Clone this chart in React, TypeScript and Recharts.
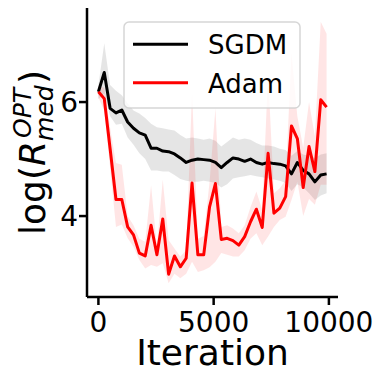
import { ComposedChart, Line, Area, XAxis, YAxis, Legend } from 'recharts';

const FONT = '"DejaVu Sans", sans-serif';

// iterations at which the median ratio was logged
const iterations = [
  0, 254, 508, 762, 1015, 1269, 1523, 1777, 2031, 2285,
  2538, 2792, 3046, 3300, 3554, 3808, 4062, 4315, 4569, 4823,
  5077, 5331, 5585, 5838, 6092, 6346, 6600, 6854, 7108, 7362,
  7615, 7869, 8123, 8377, 8631, 8885, 9138, 9392, 9646, 9900,
];

const sgdm = [
  6.18, 6.52, 5.89, 5.81, 5.86, 5.65, 5.54, 5.46, 5.42, 5.19,
  5.19, 5.14, 5.13, 5.09, 5.02, 4.94, 4.98, 5.0, 4.99, 4.98,
  4.94, 4.85, 4.94, 5.02, 5.0, 4.96, 5.0, 4.94, 4.91, 4.94,
  4.92, 4.91, 4.88, 4.74, 4.94, 4.8, 4.74, 4.6, 4.72, 4.74,
];
const sgdmLow = [
  6.05, 6.15, 5.75, 5.6, 5.62, 5.38, 5.25, 5.1, 5.0, 4.8,
  4.8, 4.78, 4.78, 4.72, 4.65, 4.62, 4.6, 4.6, 4.62, 4.6,
  4.58, 4.5, 4.56, 4.66, 4.68, 4.7, 4.72, 4.7, 4.68, 4.66,
  4.64, 4.62, 4.58, 4.44, 4.56, 4.5, 4.4, 4.28, 4.36, 4.4,
];
const sgdmHigh = [
  6.3, 7.03, 6.3, 6.2, 6.12, 5.98, 5.85, 5.8, 5.72, 5.62,
  5.56, 5.54, 5.52, 5.5, 5.42, 5.36, 5.38, 5.36, 5.34, 5.36,
  5.32, 5.22, 5.3, 5.38, 5.34, 5.36, 5.34, 5.28, 5.24, 5.24,
  5.22, 5.18, 5.16, 5.06, 5.14, 5.08, 5.06, 5.02, 5.08, 5.1,
];

const adam = [
  6.18, 6.06, 5.18, 4.29, 4.29, 3.81, 3.67, 3.35, 3.3, 3.84,
  3.32, 3.95, 2.98, 3.3, 3.11, 3.26, 4.58, 3.32, 3.32, 4.16,
  4.57, 3.59, 3.61, 3.57, 3.49, 3.64, 3.9, 4.12, 3.8, 5.1,
  4.05, 4.14, 4.34, 5.58, 5.36, 4.5, 5.22, 4.78, 6.04, 5.91,
];
const adamLow = [
  6.08, 5.85, 4.85, 3.81, 3.85, 3.61, 3.46, 3.23, 3.08, 3.14,
  3.11, 3.17, 2.82, 2.99, 2.91, 2.99, 3.2, 3.02, 3.05, 3.1,
  3.2, 3.35, 3.32, 3.29, 3.29, 3.4, 3.6, 3.7, 3.49, 3.64,
  3.81, 3.93, 3.99, 4.28, 4.6, 4.0, 4.3, 4.2, 4.55, 4.55,
];
const adamHigh = [
  6.28, 6.25, 5.55, 4.93, 4.9, 4.0, 3.84, 3.6, 3.55, 4.54,
  3.46, 4.64, 3.58, 3.43, 3.29, 3.4, 6.18, 3.6, 3.65, 4.6,
  5.89, 3.81, 3.84, 3.78, 3.7, 3.84, 4.16, 4.43, 4.11, 6.5,
  4.4, 4.49, 4.63, 6.86, 5.75, 5.2, 6.0, 5.4, 7.41, 7.2,
];

const chartData = iterations.map((iter, i) => ({
  iter,
  sgdm: sgdm[i],
  sgdmBand: [sgdmLow[i], sgdmHigh[i]],
  adam: adam[i],
  adamBand: [adamLow[i], adamHigh[i]],
}));

const XTick = ({ x, y, payload }: any) => (
  <text x={x} y={y} dy={21} textAnchor="middle" fontFamily={FONT} fontSize={28} fill="#000">
    {payload.value}
  </text>
);

const YTick = ({ x, y, payload }: any) => (
  <text x={x} y={y} dy={10} textAnchor="end" fontFamily={FONT} fontSize={28} fill="#000">
    {payload.value}
  </text>
);

const XTitle = () => (
  <text x={212.5} y={365} textAnchor="middle" fontFamily={FONT} fontSize={36} fill="#000">
    Iteration
  </text>
);

// log(R_med^OPT), rotated, with stacked scripts
const YTitle = () => (
  <g transform="translate(45, 153) rotate(-90)" fontFamily={FONT} fill="#000">
    <text x={-82} y={0} fontSize={36}>log(</text>
    <text x={-13} y={0} fontSize={36} fontStyle="italic">R</text>
    <text x={15} y={-14} fontSize={25} fontStyle="italic">OPT</text>
    <text x={12} y={8} fontSize={25} fontStyle="italic">med</text>
    <text x={69} y={0} fontSize={36}>)</text>
  </g>
);

const LegendBox = () => (
  <svg width={178} height={88}>
    <rect x={1} y={1} width={176} height={86} rx={5} fill="#fff" fillOpacity={0.8} stroke="#ccc" strokeOpacity={0.8} strokeWidth={1.5} />
    <line x1={10} x2={65} y1={23.3} y2={23.3} stroke="#000" strokeWidth={3} />
    <text x={85} y={33} fontFamily={FONT} fontSize={26} fill="#000">SGDM</text>
    <line x1={10} x2={65} y1={61.7} y2={61.7} stroke="#ff0000" strokeWidth={3} />
    <text x={85} y={71.7} fontFamily={FONT} fontSize={26} fill="#000">Adam</text>
  </svg>
);

export default function App() {
  return (
    <div style={{ position: 'absolute', left: 0, top: 0 }}>
      <ComposedChart
        width={382}
        height={382}
        data={chartData}
        margin={{ top: 8, right: 44, bottom: 0, left: 0 }}
      >
        <XAxis
          type="number"
          dataKey="iter"
          domain={[-495, 10395]}
          ticks={[0, 5000, 10000]}
          height={85}
          axisLine={{ stroke: '#000', strokeWidth: 2.5 }}
          tickLine={{ stroke: '#000', strokeWidth: 2.5 }}
          tickSize={8}
          tickMargin={6}
          tick={<XTick />}
          label={<XTitle />}
          allowDataOverflow
        />
        <YAxis
          type="number"
          domain={[2.58, 7.65]}
          ticks={[4, 6]}
          width={87}
          axisLine={{ stroke: '#000', strokeWidth: 2.5 }}
          tickLine={{ stroke: '#000', strokeWidth: 2.5 }}
          tickSize={8}
          tickMargin={1}
          tick={<YTick />}
          label={<YTitle />}
          allowDataOverflow
        />
        <Area
          type="linear"
          dataKey="sgdmBand"
          stroke="none"
          fill="#000"
          fillOpacity={0.1}
          isAnimationActive={false}
          legendType="none"
        />
        <Line
          type="linear"
          dataKey="sgdm"
          name="SGDM"
          stroke="#000"
          strokeWidth={3}
          strokeLinejoin="round"
          dot={false}
          isAnimationActive={false}
        />
        <Area
          type="linear"
          dataKey="adamBand"
          stroke="none"
          fill="#ff0000"
          fillOpacity={0.1}
          isAnimationActive={false}
          legendType="none"
        />
        <Line
          type="linear"
          dataKey="adam"
          name="Adam"
          stroke="#ff0000"
          strokeWidth={3}
          strokeLinejoin="round"
          dot={false}
          isAnimationActive={false}
        />
        <Legend
          layout="vertical"
          align="center"
          verticalAlign="middle"
          content={<LegendBox />}
          wrapperStyle={{ left: 123, top: 21, width: 178, height: 88 }}
        />
      </ComposedChart>
    </div>
  );
}
